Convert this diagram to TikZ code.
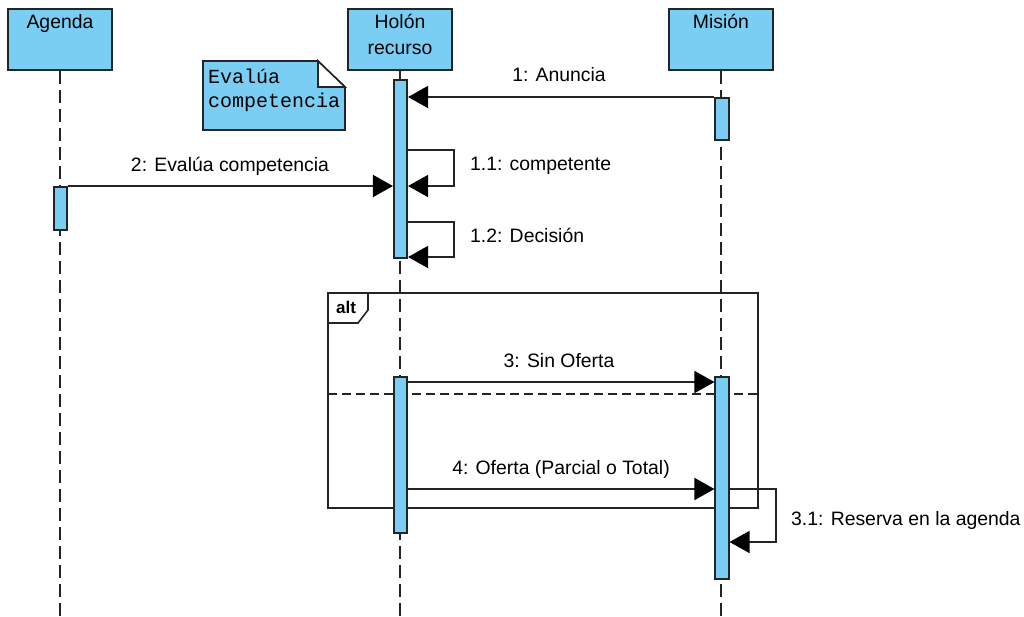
\documentclass[tikz,border=0pt]{standalone}
\usepackage{fontspec}
\setmainfont{Liberation Sans}
\newfontfamily\notefont{Liberation Mono}
\usetikzlibrary{arrows.meta}
\definecolor{umlfill}{RGB}{122,206,244}
\definecolor{umlline}{RGB}{36,36,36}
\begin{document}
\begin{tikzpicture}[x=1pt,y=-1pt,
  head/.style={draw=umlline,fill=umlfill,line width=2pt,minimum width=104pt,
    minimum height=61pt,inner sep=0pt,anchor=north},
  act/.style={draw=umlline,fill=umlfill,line width=1.6pt,minimum width=13.5pt,
    inner sep=0pt,anchor=north},
  lifeline/.style={draw=umlline,line width=1.5pt,dash pattern=on 13pt off 6pt},
  msg/.style={draw=umlline,line width=1.6pt,
    -{Triangle[length=20pt,width=22pt,color=black,fill=black]}},
  lbl/.style={font=\fontsize{19.4}{23}\selectfont,inner sep=0pt,text=black},
  frame/.style={draw=umlline,line width=1.6pt},
]
\useasboundingbox (0,0) rectangle (1024,616);

% lifeline heads
\node[head] (agenda) at (60,8) {};
\node[head] (holon) at (400,8) {};
\node[head] (mision) at (721,8) {};
\node[lbl,anchor=base] (tagenda) at (60,28) {Agenda};
\node[lbl,anchor=base] (tholon1) at (400,28) {Holón};
\node[lbl,anchor=base] (tholon2) at (400,54) {recurso};
\node[lbl,anchor=base] (tmision) at (721,28) {Misión};

% lifelines
\coordinate (endA) at (60,616);
\coordinate (endH) at (400,616);
\coordinate (endM) at (721,616);
\draw[lifeline] (agenda.south) -- (endA);
\draw[lifeline] (holon.south) -- (endH);
\draw[lifeline] (mision.south) -- (endM);

% note
\filldraw[draw=umlline,fill=umlfill,line width=1.6pt]
  (203,61) -- (318,61) -- (345,87) -- (345,130) -- (203,130) -- cycle;
\filldraw[draw=umlline,fill=white,line width=1.6pt]
  (318,61) -- (318,87) -- (345,87) -- cycle;
\node[anchor=base west,inner sep=0pt,font=\notefont\fontsize{20}{24}\selectfont] (note1) at (208,83) {Evalúa};
\node[anchor=base west,inner sep=0pt,font=\notefont\fontsize{20}{24}\selectfont] (note2) at (208,107) {competencia};

% alt fragment
\draw[frame] (328,293) rectangle (758,508);
\draw[frame] (328,323) -- (358,323) -- (368,310) -- (368,293);
\node[anchor=base west,inner sep=0pt,font=\bfseries\fontsize{17}{20}\selectfont] (alt) at (336,313) {alt};
\draw[draw=umlline,line width=1.5pt,dash pattern=on 9pt off 5pt] (328,394) -- (758,394);

% activations
\node[act,minimum height=178pt] (hol1) at (400.5,79) {};
\node[act,minimum height=42pt] (mis1) at (722,97) {};
\node[act,minimum height=43pt] (age1) at (60.5,186) {};
\node[act,minimum height=156pt] (hol2) at (400.5,376) {};
\node[act,minimum height=202pt] (mis2) at (722,376) {};

% messages
\draw[msg] (mis1.west |- 0,97) -- (hol1.east |- 0,97);
\node[lbl,anchor=base] (l1) at (559,81) {1: Anuncia};

\draw[msg] (hol1.east |- 0,150) -- (454,150) -- (454,186) -- (hol1.east |- 0,186);
\node[lbl,anchor=base west] (l11) at (470,170) {1.1: competente};

\draw[msg] (age1.east |- 0,186) -- (hol1.west |- 0,186);
\node[lbl,anchor=base] (l2) at (230,171) {2: Evalúa competencia};

\draw[msg] (hol1.east |- 0,222) -- (454,222) -- (454,257) -- (hol1.east |- 0,257);
\node[lbl,anchor=base west] (l12) at (470,242) {1.2: Decisión};

\draw[msg] (hol2.east |- 0,382) -- (mis2.west |- 0,382);
\node[lbl,anchor=base] (l3) at (559,367) {3: Sin Oferta};

\draw[msg] (hol2.east |- 0,489) -- (mis2.west |- 0,489);
\node[lbl,anchor=base] (l4) at (561,474) {4: Oferta (Parcial o Total)};

\draw[msg] (mis2.east |- 0,489) -- (776,489) -- (776,542) -- (mis2.east |- 0,542);
\node[lbl,anchor=base west] (l31) at (791,525) {3.1: Reserva en la agenda};
\end{tikzpicture}
\end{document}
